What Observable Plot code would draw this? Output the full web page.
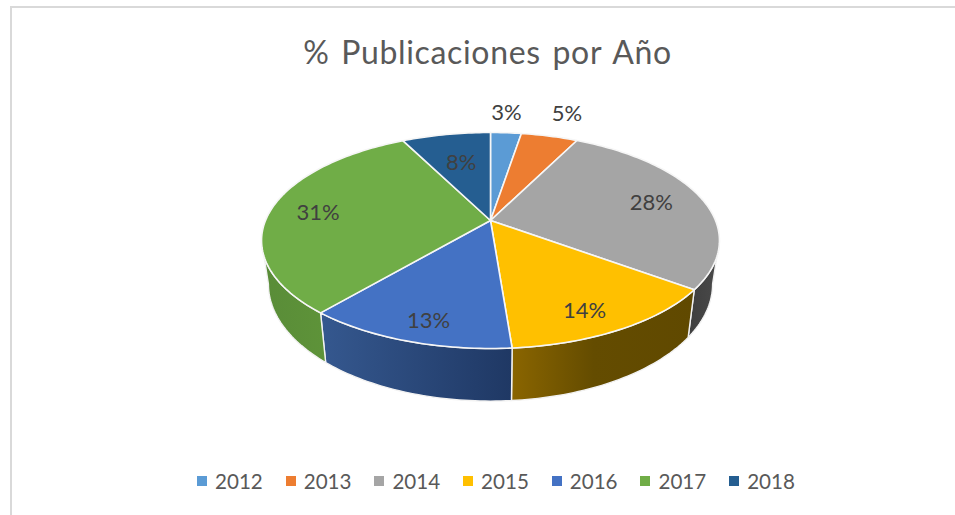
<!DOCTYPE html>
<html lang="es">
<head>
<meta charset="utf-8">
<script src="https://cdn.jsdelivr.net/npm/d3@7"></script>
<script src="https://cdn.jsdelivr.net/npm/@observablehq/plot@0.6"></script>
<style>
  html, body { margin: 0; padding: 0; background: #fff; width: 955px; height: 515px; overflow: hidden; font-family: Lato, "Open Sans", sans-serif; }
  #frame { position: absolute; left: 10px; top: 6px; right: 0; bottom: 0; border-top: 2px solid #d9d9d9; border-left: 2px solid #d9d9d9; pointer-events: none; }
  #page { position: relative; width: 955px; }
  #title { height: 85px; box-sizing: border-box; padding-top: 30px; text-align: center; color: #595959; font-size: 32px; line-height: 44px; letter-spacing: 0.65px; word-spacing: 3px; white-space: nowrap; padding-left: 20px; padding-right: 0; }
  #legend { height: 55px; box-sizing: border-box; display: flex; justify-content: flex-start; align-items: center; padding-left: 197px; padding-bottom: 13px; color: #595959; font-size: 20.6px; line-height: 42px; }
  #legend .item { display: flex; align-items: center; width: 88.7px; flex: none; }
  #legend .sw { width: 10px; height: 10px; margin-right: 8px; flex: none; }
  #chart svg { display: block; background: none; }
</style>
</head>
<body>
<div id="page">
  <div id="frame"></div>
  <div id="title">% Publicaciones por Año</div>
  <div id="chart"></div>
  <div id="legend"></div>
</div>
<script>
// Data
const years = ["2012", "2013", "2014", "2015", "2016", "2017", "2018"];
const shares = [2.6, 4.8, 27.7, 13.7, 12.5, 31.3, 7.5];
const topColors = ["#5B9BD5", "#ED7D31", "#A5A5A5", "#FFC000", "#4472C4", "#70AD47", "#255E91"];
const wallStart = ["#3a6d9b", "#a85a23", "#3e3e3e", "#8a6500", "#35588f", "#598c38", "#1b4468"];
const wallEnd = ["#3a6d9b", "#a85a23", "#4a4a4a", "#604900", "#1f3864", "#5e9339", "#1b4468"];
const labelRadius = [1.27, 1.33, 0.76, 0.83, 0.85, 0.78, 0.635];
const labelTurn = [-0.7, 0.4, 0, 3.4, -2, -1.3, 0.3];

// Tilted-pie projection: a unit circle seen in perspective
const RX = 225, RY = 108, APEX = 20, C = 0.185, DEPTH = 42, SHRINK = 0.97, LOWER_K = 1.08;
const project = (theta, r = 1, lower = false) => {
  const X = r * Math.sin(theta), Y = r * Math.cos(theta), w = 1 + C * Y;
  const s = lower ? SHRINK : 1, k = lower ? LOWER_K : 1;
  return {x: s * RX * X / w, y: (k * RY * Y + APEX) / w - (lower ? DEPTH : 0)};
};

const total = d3.sum(shares);
const cum = d3.cumsum(shares);
const slices = years.map((year, i) => ({
  year,
  a0: ((cum[i] - shares[i]) / total) * 2 * Math.PI,
  a1: (cum[i] / total) * 2 * Math.PI
}));
const arc = (a0, a1, r, lower) => {
  const n = Math.max(2, Math.ceil((a1 - a0) / 0.02));
  return d3.range(n + 1).map((k) => project(a0 + ((a1 - a0) * k) / n, r, lower));
};

// Flat top face of each slice
const topRows = slices.flatMap((s) => {
  const rim = arc(s.a0, s.a1, 1, false);
  const apex = project(0, 0, false);
  return [apex, ...rim, apex].map((p) => ({...p, year: s.year}));
});

// Visible outer wall of each slice, clipped to the front half of the rim
const visR = Math.PI / 2 + Math.asin(C), visL = 2 * Math.PI - visR;
const walls = slices.flatMap((s, i) => {
  const a0 = Math.max(s.a0, visR), a1 = Math.min(s.a1, visL);
  if (a1 <= a0) return [];
  const up = arc(a0, a1, 1, false), down = arc(a0, a1, 1, true).reverse();
  return [{i, year: s.year, rows: [...up, ...down, up[0]]}];
});

const labels = slices.map((s, i) => ({
  ...project((s.a0 + s.a1) / 2 + (labelTurn[i] * Math.PI) / 180, labelRadius[i], false),
  text: `${Math.round(shares[i])}%`
}));

const chart = Plot.plot({
  width: 955,
  height: 375,
  margin: 0,
  x: {domain: [-490, 465], range: [0, 955], axis: null},
  y: {domain: [-220, 155], range: [375, 0], axis: null},
  color: {domain: years, range: topColors},
  style: {fontFamily: "Lato, 'Open Sans', sans-serif", background: "none", overflow: "visible"},
  marks: [
    ...walls.map((w) => Plot.line(w.rows, {
      x: "x", y: "y",
      fill: `url(#wall-${w.year})`,
      stroke: "#f2f2f2", strokeWidth: 1.4, strokeLinejoin: "round"
    })),
    Plot.line(topRows, {
      x: "x", y: "y", z: "year",
      fill: "year",
      stroke: "#f6f6f6", strokeWidth: 1.6, strokeLinejoin: "round"
    }),
    Plot.text(labels, {
      x: "x", y: "y", text: "text",
      fill: "#404040", fontSize: 22
    })
  ]
});

// Horizontal shading for the walls
const defs = d3.select(chart).append("defs");
walls.forEach((w) => {
  const g = defs.append("linearGradient").attr("id", `wall-${w.year}`)
    .attr("x1", 0).attr("x2", 1).attr("y1", 0).attr("y2", 0);
  g.append("stop").attr("offset", "0%").attr("stop-color", wallStart[w.i]);
  if (w.year === "2015") g.append("stop").attr("offset", "45%").attr("stop-color", "#644c00");
  g.append("stop").attr("offset", "100%").attr("stop-color", wallEnd[w.i]);
});
document.getElementById("chart").appendChild(chart);

const colour = chart.scale("color").apply;
const legend = d3.select("#legend");
years.forEach((year) => {
  const item = legend.append("div").attr("class", "item");
  item.append("div").attr("class", "sw").style("background", colour(year));
  item.append("span").text(year);
});
</script>
</body>
</html>
